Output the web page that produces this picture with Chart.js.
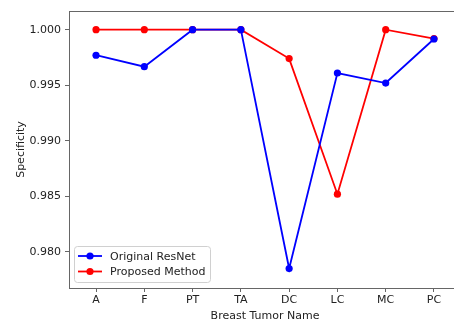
<!DOCTYPE html>
<html>
<head>
<meta charset="utf-8">
<script src="https://cdn.jsdelivr.net/npm/chart.js@4"></script>
<style>
  html, body { margin: 0; padding: 0; background: #fff; overflow: hidden; width: 454px; height: 324px; }
  #wrap { width: 470px; height: 324px; }
</style>
</head>
<body>
<div id="wrap"><canvas id="chart" width="470" height="324"></canvas></div>
<script>
// Specificity per breast tumor class
const categories = ['A', 'F', 'PT', 'TA', 'DC', 'LC', 'MC', 'PC'];
const resnetValues = [0.9977, 0.99667, 1.0, 1.0, 0.97851, 0.9961, 0.9952, 0.99916];
const proposedValues = [1.0, 1.0, 1.0, 1.0, 0.9974, 0.9852, 1.0, 0.9992];
const yTicks = [0.980, 0.985, 0.990, 0.995, 1.000];

const FONT = { family: 'DejaVu Sans', size: 11 };
const AXIS_COLOR = '#666';

function toPoints(values) {
    return values.map((v, i) => ({ x: i, y: v }));
}

// Box around plot area plus matplotlib-like legend in lower left
const framePlugin = {
    id: 'frame',
    afterDraw(chart) {
        const { ctx, chartArea: a } = chart;
        ctx.save();
        ctx.strokeStyle = AXIS_COLOR;
        ctx.lineWidth = 1;
        ctx.strokeRect(a.left + 0.5, a.top + 0.5, a.right - a.left, a.bottom - a.top);

        // legend
        const x0 = a.left + 5, y1 = a.bottom - 6;
        const w = 136, h = 36;
        const y0 = y1 - h;
        ctx.fillStyle = 'rgba(255,255,255,0.8)';
        ctx.strokeStyle = '#d0d0d0';
        ctx.beginPath();
        ctx.roundRect(x0 + 0.5, y0 + 0.5, w, h, 3);
        ctx.fill();
        ctx.stroke();
        ctx.font = FONT.size + 'px ' + FONT.family;
        ctx.textBaseline = 'middle';
        chart.data.datasets.forEach((ds, i) => {
            const cy = y0 + 10 + i * 15.5;
            ctx.strokeStyle = ds.borderColor;
            ctx.lineWidth = 1.8;
            ctx.beginPath();
            ctx.moveTo(x0 + 4, cy);
            ctx.lineTo(x0 + 28, cy);
            ctx.stroke();
            ctx.fillStyle = ds.backgroundColor;
            ctx.beginPath();
            ctx.arc(x0 + 16, cy, 3.6, 0, Math.PI * 2);
            ctx.fill();
            ctx.fillStyle = '#222';
            ctx.fillText(ds.label, x0 + 36, cy + 1);
        });
        ctx.restore();
    }
};

new Chart(document.getElementById('chart'), {
    type: 'line',
    data: {
        datasets: [
            {
                label: 'Original ResNet',
                data: toPoints(resnetValues),
                borderColor: '#0000ff',
                backgroundColor: '#0000ff',
                borderWidth: 1.8,
                pointRadius: 3.6,
                pointBorderWidth: 0,
                tension: 0
            },
            {
                label: 'Proposed Method',
                data: toPoints(proposedValues),
                borderColor: '#ff0000',
                backgroundColor: '#ff0000',
                borderWidth: 1.8,
                pointRadius: 3.6,
                pointBorderWidth: 0,
                tension: 0
            }
        ]
    },
    plugins: [framePlugin],
    options: {
        responsive: false,
        animation: false,
        layout: { padding: { top: 11, right: 9, left: 0, bottom: 0 } },
        plugins: {
            legend: { display: false },
            tooltip: { enabled: false }
        },
        scales: {
            x: {
                type: 'linear',
                min: -0.56,
                max: 7.56,
                afterBuildTicks: scale => { scale.ticks = categories.map((c, i) => ({ value: i })); },
                afterFit: scale => { scale.height = 36; },
                ticks: {
                    callback: v => categories[v],
                    color: '#222',
                    font: FONT,
                    padding: 2,
                    maxRotation: 0,
                    autoSkip: false
                },
                grid: { drawOnChartArea: false, drawTicks: true, tickLength: 4, color: AXIS_COLOR },
                border: { display: true, color: AXIS_COLOR },
                title: {
                    display: true,
                    text: 'Breast Tumor Name',
                    color: '#222',
                    font: FONT,
                    padding: { top: 0, bottom: 1 }
                }
            },
            y: {
                min: 0.97676,
                max: 1.00168,
                afterBuildTicks: scale => { scale.ticks = yTicks.map(v => ({ value: v })); },
                afterFit: scale => { scale.width = 69; },
                ticks: {
                    callback: v => v.toFixed(3),
                    color: '#222',
                    font: FONT,
                    padding: 4
                },
                grid: { drawOnChartArea: false, drawTicks: true, tickLength: 4, color: AXIS_COLOR },
                border: { display: true, color: AXIS_COLOR },
                title: {
                    display: true,
                    text: 'Specificity',
                    color: '#222',
                    font: FONT,
                    padding: { top: 15, bottom: 0 }
                }
            }
        }
    }
});
</script>
</body>
</html>
